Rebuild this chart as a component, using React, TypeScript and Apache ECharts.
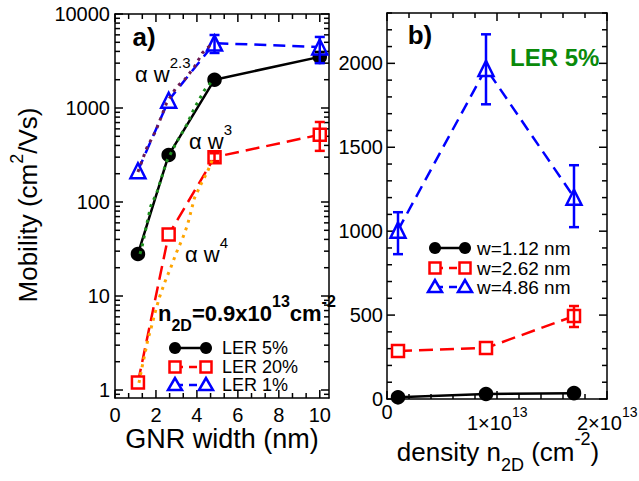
import React, { useEffect, useRef } from 'react';
import * as echarts from 'echarts';

// ---------- Panel a) : mobility vs GNR width ----------
const widths = [1.12, 2.62, 4.86, 10];
const ler5 = [28, 316, 2000, 3500];
const ler20 = [1.2, 45, 300, 520];
const ler1 = [215, 1210, 4900, 4450];
const ler5Err = [[10, 3050, 3950]];
const ler20Err = [[4.86, 272, 330], [10, 350, 710]];
const ler1Err = [[4.86, 3850, 5980], [10, 3000, 5700]];

// power-law guide lines
const fitW23X = [1.12, 1.55, 1.99, 2.52, 3.0, 3.4, 3.88, 4.27, 4.76];
const fitW23Y = [209, 375, 570, 1130, 1670, 2000, 2740, 3860, 4900];
const fitW3X = [1.22, 1.3, 1.6, 1.75, 2.04, 2.52, 3.0, 3.5, 3.88, 4.37, 4.76];
const fitW3Y = [28, 32, 65, 91, 125, 270, 430, 660, 1000, 1550, 1950];
const fitW4X = [1.17, 1.31, 1.46, 1.6, 1.8, 1.99, 2.18, 2.43, 2.72, 3.0, 3.3, 3.54, 3.88, 4.22, 4.51, 4.76];
const fitW4Y = [1.19, 1.71, 2.42, 3.4, 4.9, 7.1, 9.8, 14, 20, 29, 41, 57, 110, 158, 209, 282];

const leftXTicks = [0, 2, 4, 6, 8, 10];
const leftYTicks = [1, 10, 100, 1000, 10000];
const leftLegend = ['LER 5%', 'LER 20%', 'LER 1%'];

// ---------- Panel b) : mobility vs density ----------
const densities = [1e12, 9e12, 1.7e13];
const w112 = [10, 30, 35];
const w262 = [286, 304, 494];
const w486 = [1006, 1970, 1202];
const w262Err = [[1.7e13, 429, 554]];
const w486Err = [[1e12, 863, 1113], [9e12, 1756, 2173], [1.7e13, 1024, 1393]];
const rightXTicks = [0, 1e13, 2e13];
const rightYTicks = [0, 500, 1000, 1500, 2000];
const rightLegend = ['w=1.12 nm', 'w=2.62 nm', 'w=4.86 nm'];

const FONT = "'Liberation Sans', Arial, Helvetica, sans-serif";
const BLACK = '#000000';
const RED = '#ff0000';
const BLUE = '#0000ff';
const TICK = '#000000';

const lg = (v: number) => Math.log10(v);
const range = (a: number, b: number, s: number) => {
  const out: number[] = [];
  for (let i = 0; a + i * s <= b + 1e-9 * Math.abs(b || 1); i++) out.push(a + i * s);
  return out;
};
const notIn = (arr: number[], majors: number[]) =>
  arr.filter((v) => !majors.some((m) => Math.abs(m - v) < 1e-6 * Math.max(1, Math.abs(m))));

function axis(gridIndex: number, pos: string, min: number, max: number, label: any) {
  return {
    type: 'value',
    gridIndex,
    position: pos,
    min,
    max,
    splitLine: { show: false },
    axisLine: { show: true, onZero: false, lineStyle: { color: BLACK, width: 1.5 } },
    axisTick: { show: false },
    minorTick: { show: false },
    axisLabel: label || { show: false },
  };
}

function errSeries(data: number[][], color: string, xi: number, yi: number, tf: (v: number) => number) {
  return {
    type: 'custom',
    xAxisIndex: xi,
    yAxisIndex: yi,
    encode: { x: 0, y: [1, 2] },
    data: data.map(([x, lo, hi]) => [x, tf(lo), tf(hi)]),
    renderItem: (params: any, api: any) => {
      const x = api.value(0);
      const p1 = api.coord([x, api.value(1)]);
      const p2 = api.coord([x, api.value(2)]);
      const w = 5;
      return {
        type: 'group',
        children: [
          { type: 'line', shape: { x1: p1[0], y1: p1[1], x2: p2[0], y2: p2[1] }, style: { stroke: color, lineWidth: 2.5 } },
          { type: 'line', shape: { x1: p1[0] - w, y1: p1[1], x2: p1[0] + w, y2: p1[1] }, style: { stroke: color, lineWidth: 2.5 } },
          { type: 'line', shape: { x1: p2[0] - w, y1: p2[1], x2: p2[0] + w, y2: p2[1] }, style: { stroke: color, lineWidth: 2.5 } },
        ],
      };
    },
    z: 6,
    silent: true,
  };
}

function dataSeries(name: string, xs: number[], ys: number[], xi: number, yi: number, tf: (v: number) => number,
  color: string, dash: any, symbol: string, size: number, filled: boolean) {
  return {
    type: 'line',
    name,
    xAxisIndex: xi,
    yAxisIndex: yi,
    data: xs.map((x, i) => [x, tf(ys[i])]),
    lineStyle: { color, width: 2.5, type: dash },
    symbol,
    symbolSize: size,
    showAllSymbol: true,
    itemStyle: { color: filled ? color : '#ffffff', borderColor: color, borderWidth: 2.5 },
    z: 3,
  };
}

function fitSeries(xs: number[], ys: number[], color: string) {
  return {
    type: 'line',
    xAxisIndex: 0,
    yAxisIndex: 0,
    data: xs.map((x, i) => [x, lg(ys[i])]),
    showSymbol: false,
    symbol: 'none',
    lineStyle: { color, width: 3, type: [3, 5] },
    z: 7,
    silent: true,
  };
}

function legendRow(x1: number, x2: number, y: number, tx: number, color: string, dash: any, kind: string, label: string, fs: number) {
  const els: any[] = [
    { type: 'line', shape: { x1, y1: y, x2, y2: y }, style: { stroke: color, lineWidth: 2.5, lineDash: dash }, z: 100 },
  ];
  [x1, x2].forEach((x) => {
    if (kind === 'circle') {
      els.push({ type: 'circle', shape: { cx: x, cy: y, r: 6 }, style: { fill: color }, z: 101 });
    } else if (kind === 'rect') {
      els.push({ type: 'rect', shape: { x: x - 5.5, y: y - 5.5, width: 11, height: 11 }, style: { fill: '#fff', stroke: color, lineWidth: 2.5 }, z: 101 });
    } else {
      els.push({ type: 'polygon', shape: { points: [[x, y - 7], [x - 7, y + 5], [x + 7, y + 5]] }, style: { fill: '#fff', stroke: color, lineWidth: 2.5 }, z: 101 });
    }
  });
  els.push({ type: 'text', x: tx, y, style: { text: label, fontSize: fs, fontFamily: FONT, fill: BLACK, align: 'left', verticalAlign: 'middle' }, z: 101 });
  return els;
}

function richText(x: number, y: number, text: string, rich: any, align: string, extra: any = {}) {
  return {
    type: 'text',
    x,
    y,
    z: 100,
    ...extra,
    style: { text, rich, fontFamily: FONT, fill: BLACK, align, verticalAlign: 'middle' },
  };
}

function plainText(x: number, y: number, text: string, fs: number, align: string) {
  return {
    type: 'text',
    x,
    y,
    z: 100,
    style: { text, fontSize: fs, fontFamily: FONT, fill: BLACK, align, verticalAlign: 'middle' },
  };
}

const sup = (fs: number, lh: number, bold = false) => ({
  fontSize: fs, fontFamily: FONT, lineHeight: lh, verticalAlign: 'top', fontWeight: bold ? 'bold' : 'normal',
});
const sub = (fs: number, lh: number, bold = false) => ({
  fontSize: fs, fontFamily: FONT, lineHeight: lh, verticalAlign: 'bottom', fontWeight: bold ? 'bold' : 'normal',
});
const base = (fs: number, lh: number, bold = false) => ({
  fontSize: fs, fontFamily: FONT, lineHeight: lh, verticalAlign: 'middle', fontWeight: bold ? 'bold' : 'normal',
});

export default function App() {
  const ref = useRef<HTMLDivElement>(null);
  useEffect(() => {
    if (!ref.current) return;
    const chart = echarts.init(ref.current, null, { renderer: 'svg' });

    const tickLabel = { show: true, fontSize: 20, fontFamily: FONT, color: BLACK, lineHeight: 20 };

    const lxMin = 0, lxMax = 10.45;
    const lyMin = -0.085, lyMax = 4;
    const lyMajor = leftYTicks.map(lg);
    const lyMinor: number[] = [];
    [0.1, 1, 10, 100, 1000].forEach((d) => {
      for (let k = 2; k <= 9; k++) {
        const v = lg(k * d);
        if (v > lyMin && v < lyMax) lyMinor.push(v);
      }
    });
    const lxMinor = notIn(range(0, 10.4, 2 / 3), leftXTicks);

    const rxMin = 0, rxMax = 2e13;
    const ryMin = 0, ryMax = 2300;
    const rxMinor = notIn(range(0, 2e13, 2e12), rightXTicks);
    const ryMinor = notIn(range(0, 2300, 100), rightYTicks);

    const xAxes = [
      axis(0, 'bottom', lxMin, lxMax, { ...tickLabel, margin: 7, customValues: leftXTicks }),
      axis(0, 'top', lxMin, lxMax, null),
      axis(1, 'bottom', rxMin, rxMax, null),
      axis(1, 'top', rxMin, rxMax, null),
    ];
    const yAxes = [
      axis(0, 'left', lyMin, lyMax, {
        ...tickLabel,
        margin: 5,
        customValues: lyMajor,
        formatter: (v: number) => String(Math.round(Math.pow(10, v))),
      }),
      axis(0, 'right', lyMin, lyMax, null),
      axis(1, 'left', ryMin, ryMax, {
        ...tickLabel,
        margin: 4,
        customValues: rightYTicks,
        formatter: (v: number) => String(v),
      }),
      axis(1, 'right', ryMin, ryMax, null),
    ];

    const id = (v: number) => v;

    const series: any[] = [
      dataSeries('LER 5%', widths, ler5, 0, 0, lg, BLACK, 'solid', 'circle', 12, true),
      dataSeries('LER 20%', widths, ler20, 0, 0, lg, RED, [14, 7], 'rect', 12, false),
      dataSeries('LER 1%', widths, ler1, 0, 0, lg, BLUE, [12, 7], 'triangle', 15, false),
      errSeries(ler5Err, BLACK, 0, 0, lg),
      errSeries(ler20Err, RED, 0, 0, lg),
      errSeries(ler1Err, BLUE, 0, 0, lg),
      fitSeries(fitW3X, fitW3Y, '#1f8f1f'),
      fitSeries(fitW23X, fitW23Y, '#6b1a55'),
      fitSeries(fitW4X, fitW4Y, '#ffa500'),
      dataSeries('w=1.12 nm', densities, w112, 2, 2, id, BLACK, 'solid', 'circle', 12, true),
      dataSeries('w=2.62 nm', densities, w262, 2, 2, id, RED, [14, 7], 'rect', 12, false),
      dataSeries('w=4.86 nm', densities, w486, 2, 2, id, BLUE, [12, 7], 'triangle', 15, false),
      errSeries(w262Err, RED, 2, 2, id),
      errSeries(w486Err, BLUE, 2, 2, id),
    ];

    const graphics: any[] = [
      richText(0, 0, '{b|Mobility (cm}{s|2}{b|/Vs)}', { b: base(26, 40), s: sup(18, 20) },
        'center', { x: 28, y: 205, rotation: Math.PI / 2 }),
      richText(222, 439, '{b|GNR width (nm)}', { b: base(27, 24) }, 'center'),
      richText(498, 452, '{b|density n}{sub|2D}{b| (cm}{s|-2}{b|)}', {
        b: base(26, 44), s: sup(18, 22), sub: sub(18, 26),
      }, 'center'),
      richText(144, 37, '{b|a)}', { b: base(26, 28, true) }, 'center'),
      richText(420, 35, '{b|b)}', { b: base(26, 28, true) }, 'center'),
      richText(510, 57, '{g|LER 5%}', { g: { ...base(24, 26, true), fill: '#0a8a0a', color: '#0a8a0a' } }, 'left'),
      richText(135, 74, '{b|\u03b1 w}{s|2.3}', { b: base(22, 38), s: sup(15, 16) }, 'left'),
      richText(189, 141, '{b|\u03b1 w}{s|3}', { b: base(22, 38), s: sup(15, 16) }, 'left'),
      richText(185, 254, '{b|\u03b1 w}{s|4}', { b: base(22, 38), s: sup(15, 16) }, 'left'),
      richText(158, 313, '{b|n}{sub|2D}{b|=0.9x10}{s|13}{b|cm}{s|-2}', {
        b: base(22, 40, true), s: sup(16, 18, true), sub: sub(16, 26, true),
      }, 'left'),
      ...legendRow(175, 206, 348, 222, BLACK, null, 'circle', leftLegend[0], 18),
      ...legendRow(175, 206, 367, 222, RED, [8, 6], 'rect', leftLegend[1], 18),
      ...legendRow(175, 206, 385, 222, BLUE, [8, 6], 'triangle', leftLegend[2], 18),
      ...legendRow(435, 465, 248, 477, BLACK, null, 'circle', rightLegend[0], 19),
      ...legendRow(435, 465, 268, 477, RED, [8, 6], 'rect', rightLegend[1], 19),
      ...legendRow(435, 465, 287, 477, BLUE, [8, 6], 'triangle', rightLegend[2], 19),
    ];

    chart.setOption({
      animation: false,
      backgroundColor: '#ffffff',
      grid: [
        { left: 115, top: 14, width: 214, height: 384, containLabel: false, outerBoundsMode: 'none' },
        { left: 387, top: 13, width: 220, height: 386, containLabel: false, outerBoundsMode: 'none' },
      ],
      xAxis: xAxes,
      yAxis: yAxes,
      series,
      graphic: graphics,
    });

    // inside ticks on all four sides, placed through the axes' own scales
    const extra: any[] = [];
    const seg = (x1: number, y1: number, x2: number, y2: number) => ({
      type: 'line',
      shape: { x1, y1, x2, y2 },
      style: { stroke: TICK, lineWidth: 1.5 },
    });
    const addTicks = (xi: number, yi: number, xMaj: number[], xMin: number[], yMaj: number[], yMin: number[],
      xr: number[], yr: number[]) => {
      const P = (x: number, y: number) => chart.convertToPixel({ xAxisIndex: xi, yAxisIndex: yi } as any, [x, y]) as number[];
      const tx = (v: number, len: number) => {
        const b = P(v, yr[0]);
        const t = P(v, yr[1]);
        extra.push(seg(b[0], b[1], b[0], b[1] - len));
        extra.push(seg(t[0], t[1], t[0], t[1] + len));
      };
      const ty = (v: number, len: number) => {
        const l = P(xr[0], v);
        const r = P(xr[1], v);
        extra.push(seg(l[0], l[1], l[0] + len, l[1]));
        extra.push(seg(r[0], r[1], r[0] - len, r[1]));
      };
      xMaj.forEach((v) => tx(v, 8));
      xMin.forEach((v) => tx(v, 5));
      yMaj.forEach((v) => ty(v, 8));
      yMin.forEach((v) => ty(v, 5));
    };
    addTicks(0, 0, leftXTicks, lxMinor, lyMajor, lyMinor, [lxMin, lxMax], [lyMin, lyMax]);
    addTicks(2, 2, rightXTicks, rxMinor, rightYTicks, ryMinor, [rxMin, rxMax], [ryMin, ryMax]);

    // density tick labels "1×10^13" with a raised exponent
    rightXTicks.forEach((v) => {
      const p = chart.convertToPixel({ xAxisIndex: 2, yAxisIndex: 2 } as any, [v, ryMin]) as number[];
      if (v === 0) {
        extra.push(plainText(p[0], p[1] + 13, '0', 20, 'center'));
      } else {
        extra.push(plainText(p[0] + 15, p[1] + 24, `${Math.round(v / 1e13)}\u00d710`, 20, 'right'));
        extra.push(plainText(p[0] + 15, p[1] + 13, '13', 14, 'left'));
      }
    });

    chart.setOption({ graphic: [...graphics, ...extra] });
    return () => chart.dispose();
  }, []);

  return (
    <div
      ref={ref}
      style={{ position: 'fixed', left: 0, top: 0, width: 639, height: 481, background: '#fff' }}
    />
  );
}
